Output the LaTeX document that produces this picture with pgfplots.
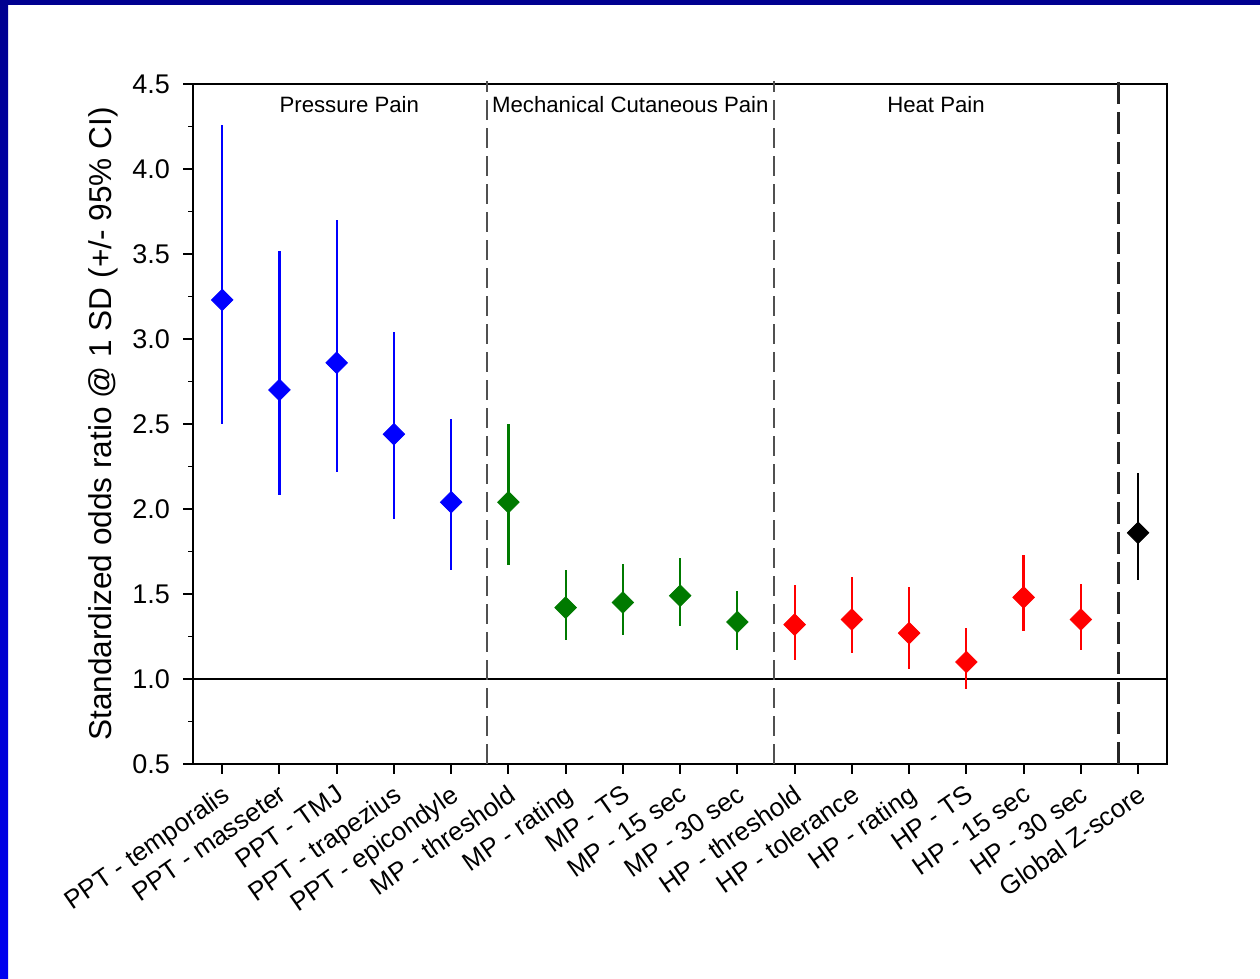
\documentclass[border=0pt]{standalone}
\usepackage{fontspec}
\setmainfont{Liberation Sans}
\usepackage{pgfplots}
\usepackage{pgfplotstable}
\pgfplotsset{compat=1.18}
\definecolor{navy}{HTML}{000090}
\definecolor{slideblue}{HTML}{0000F0}
\definecolor{dgreen}{HTML}{007A00}
\definecolor{dashgray}{HTML}{505050}

\pgfplotstableread{
x y lo hi
1 3.23 2.50 4.26
2 2.70 2.08 3.52
3 2.86 2.22 3.70
4 2.44 1.94 3.04
5 2.04 1.64 2.53
}\bluedata
\pgfplotstableread{
x y lo hi
6 2.04 1.67 2.50
7 1.42 1.23 1.64
8 1.45 1.26 1.675
9 1.49 1.31 1.71
10 1.335 1.17 1.52
}\greendata
\pgfplotstableread{
x y lo hi
11 1.32 1.11 1.55
12 1.35 1.15 1.60
13 1.27 1.06 1.54
14 1.10 0.94 1.30
15 1.48 1.28 1.73
16 1.35 1.17 1.56
}\reddata
\pgfplotstableread{
x y lo hi
17 1.86 1.58 2.21
}\blackdata

\pgfplotsset{
  ci/.style={only marks, mark=square*, mark size=3.8pt,
    mark options={rotate=45, fill=#1, draw=#1, line width=0.4pt},
    error bars/.cd, y dir=both, y explicit, error mark=none,
    error bar style={line width=1.1pt, color=#1}},
}

\begin{document}
\begin{tikzpicture}
\useasboundingbox (0pt,0pt) rectangle (630pt,489.5pt);
\fill[white] (0pt,0pt) rectangle (630pt,489.5pt);
\shade[top color=navy,bottom color=slideblue] (0pt,0pt) rectangle (4pt,489.5pt);
\fill[navy] (0pt,487pt) rectangle (630pt,489.5pt);
\begin{axis}[
  at={(96.5pt,107.5pt)}, anchor=south west,
  scale only axis, width=486.85pt, height=340pt,
  xmin=0.49, xmax=17.5, ymin=0.5, ymax=4.5,
  clip=false,
  axis line style={line width=1pt},
  tick align=outside,
  xtick pos=left, ytick pos=left,
  major tick length=5pt, minor tick length=2.5pt,
  every tick/.style={black, line width=1pt},
  minor tick style={line width=0.8pt},
  ytick={0.5,1.0,1.5,2.0,2.5,3.0,3.5,4.0,4.5},
  minor y tick num=1,
  /pgf/number format/assume math mode=true,
  yticklabel style={/pgf/number format/.cd, fixed, fixed zerofill, precision=1, /tikz/.cd, xshift=-3pt, font=\fontsize{13.5}{13.5}\selectfont},
  xtick={1,...,17},
  xticklabels={PPT - temporalis, PPT - masseter, PPT - TMJ, PPT - trapezius, PPT - epicondyle, MP - threshold, MP - rating, MP - TS, MP - 15 sec, MP - 30 sec, HP - threshold, HP - tolerance, HP - rating, HP - TS, HP - 15 sec, HP - 30 sec, Global Z-score},
  xticklabel style={rotate=35, anchor=north east, font=\fontsize{13}{13}\selectfont},
  ylabel={Standardized odds ratio @ 1 SD (+/- 95\% CI)},
  ylabel style={at={(axis description cs:-0.0924,0.5)}, anchor=center, font=\fontsize{15.8}{15.8}\selectfont},
]
\draw[line width=1pt] (axis cs:0.49,1) -- (axis cs:17.5,1);
\draw[dashgray, line width=0.8pt, dash pattern=on 10pt off 4pt] (axis cs:5.63,0.5) -- (axis cs:5.63,4.52);
\draw[dashgray, line width=0.8pt, dash pattern=on 10pt off 4pt] (axis cs:10.64,0.5) -- (axis cs:10.64,4.52);
\draw[black!85, line width=1.3pt, dash pattern=on 11pt off 4pt] (axis cs:16.66,0.5) -- (axis cs:16.66,4.52);
\node[font=\fontsize{11.1}{11.1}\selectfont] at (axis cs:3.22,4.377) {Pressure Pain};
\node[font=\fontsize{11.1}{11.1}\selectfont] at (axis cs:8.13,4.377) {Mechanical Cutaneous Pain};
\node[font=\fontsize{11.1}{11.1}\selectfont] at (axis cs:13.47,4.377) {Heat Pain};
\addplot[ci=blue] table[x=x, y=y, y error plus expr=\thisrow{hi}-\thisrow{y}, y error minus expr=\thisrow{y}-\thisrow{lo}] {\bluedata};
\addplot[ci=dgreen] table[x=x, y=y, y error plus expr=\thisrow{hi}-\thisrow{y}, y error minus expr=\thisrow{y}-\thisrow{lo}] {\greendata};
\addplot[ci=red] table[x=x, y=y, y error plus expr=\thisrow{hi}-\thisrow{y}, y error minus expr=\thisrow{y}-\thisrow{lo}] {\reddata};
\addplot[ci=black] table[x=x, y=y, y error plus expr=\thisrow{hi}-\thisrow{y}, y error minus expr=\thisrow{y}-\thisrow{lo}] {\blackdata};
\end{axis}
\end{tikzpicture}
\end{document}
